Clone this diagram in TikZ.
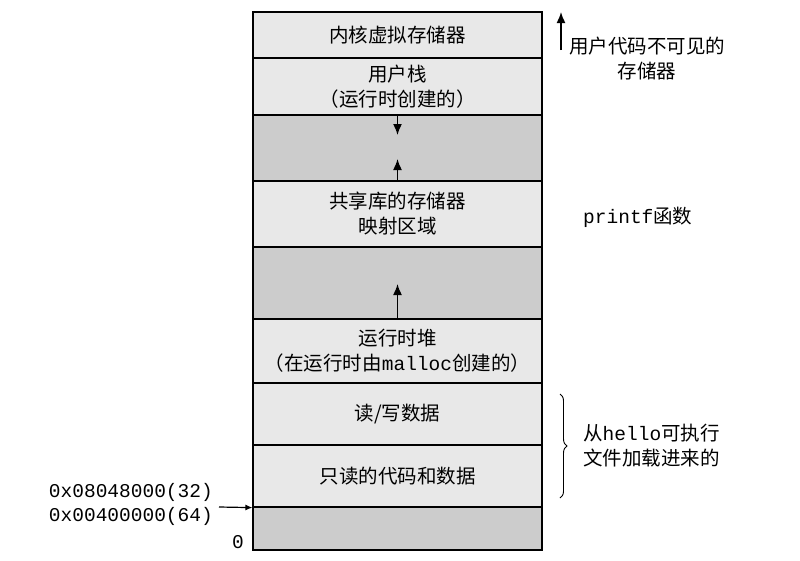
\documentclass[tikz,border=0pt]{standalone}
\usepackage{fontspec}
\setmainfont{Noto Sans CJK SC}
\setmonofont{Liberation Mono}
\usetikzlibrary{decorations.pathreplacing,arrows.meta}
\definecolor{light}{HTML}{E8E8E8}
\definecolor{dark}{HTML}{CCCCCC}
\tikzset{
	region/.style={draw, line width=1.2pt, fill=light, minimum width=289pt, inner sep=0pt, align=center},
	gap/.style={region, fill=dark},
	growarrow/.style={-{Latex[length=11pt,width=9pt]}, line width=1.5pt},
	note/.style={align=center, inner sep=0pt}
}
\begin{document}
\begin{tikzpicture}[x=1pt,y=-1pt,font=\fontsize{19.5}{25}\selectfont]
	\useasboundingbox (0,0) rectangle (800,560);

	% regions
	\node[region, minimum height=46pt] (kernel) at (397.5,35) {内核虚拟存储器};
	\node[region, minimum height=57pt] (stack) at (397.5,86.5) {用户栈\\（运行时创建的）};
	\node[gap, minimum height=66pt] (gapA) at (397.5,148) {};
	\node[region, minimum height=66pt] (shared) at (397.5,214) {共享库的存储器\\映射区域};
	\node[gap, minimum height=72pt] (gapB) at (397.5,283) {};
	\node[region, minimum height=64pt] (heap) at (397.5,351) {运行时堆\\（在运行时由\texttt{malloc}创建的）};
	\node[region, minimum height=62pt] (rw) at (397.5,414) {读/写数据};
	\node[region, minimum height=62pt] (ro) at (397.5,476) {只读的代码和数据};
	\node[gap, minimum height=43pt] (bottom) at (397.5,528.5) {};

	% growth
	\coordinate (stacktip) at (397.5,135);
	\coordinate (libtip) at (397.5,159);
	\coordinate (heaptip) at (397.5,284);
	\draw[growarrow] (gapA.north) -- (stacktip);
	\draw[growarrow] (gapA.south) -- (libtip);
	\draw[growarrow] (gapB.south) -- (heaptip);

	% right side
	\coordinate (visbot) at (561,50);
	\coordinate (vistop) at (561,12);
	\draw[growarrow] (visbot) -- (vistop);
	\node[note] (hidden) at (647,59) {用户代码不可见的\\存储器};
	\node[note, anchor=west] (printf) at (583,217) {\texttt{printf}函数};
	\coordinate (bracetop) at (560,394);
	\coordinate (bracebot) at (560,498);
	\draw[decorate, decoration={brace, amplitude=7pt}, line width=0.9pt] (bracetop) -- (bracebot);
	\node[note, anchor=west] (loaded) at (583,446) {从\texttt{hello}可执行\\文件加载进来的};

	% addresses
	\node[note, anchor=east] (addr32) at (213,492) {\texttt{0x08048000(32)}};
	\node[note, anchor=east] (addr64) at (213,516) {\texttt{0x00400000(64)}};
	\node[note, anchor=east] (zero) at (244,542) {\texttt{0}};
	\coordinate (start) at (219,507);
	\draw[-{Latex[length=7pt,width=6pt]}, line width=1.2pt] (start) -- (ro.south west);
\end{tikzpicture}
\end{document}
